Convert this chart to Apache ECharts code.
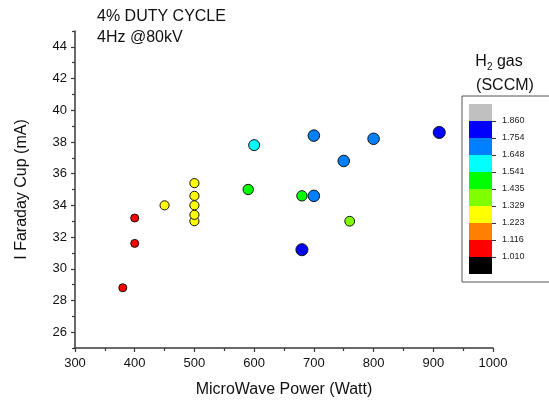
<!DOCTYPE html>
<html>
<head>
<meta charset="utf-8">
<script src="https://cdn.jsdelivr.net/npm/echarts@6/dist/echarts.min.js"></script>
<style>
  html, body { margin: 0; padding: 0; background: #fff; }
  #chart { width: 549px; height: 403px; }
</style>
</head>
<body>
<div id="chart"></div>
<script>
// 测量点：微波功率 / 法拉第杯电流 / H2 流量
const power   = [380, 400, 400, 450, 500, 500, 500, 500, 500, 590, 600, 680, 680, 700, 700, 750, 800, 910, 760]
const current = [28.8, 31.6, 33.2, 34.0, 33.0, 33.4, 34.0, 34.6, 35.4, 35.0, 37.8, 34.6, 31.2, 34.6, 38.4, 36.8, 38.2, 38.6, 33.0]
const gasFlow = [1.06, 1.06, 1.06, 1.27, 1.27, 1.27, 1.27, 1.27, 1.27, 1.49, 1.60, 1.49, 1.80, 1.70, 1.70, 1.70, 1.70, 1.80, 1.38]

// 色标：从下到上
const binColors = ['#000000', '#ff0000', '#ff8000', '#ffff00', '#80ff00', '#00ff00', '#00ffff', '#0080ff', '#0000ff', '#c0c0c0']
const binLabels = ['1.010', '1.116', '1.223', '1.329', '1.435', '1.541', '1.648', '1.754', '1.860']

const xTicks = [300, 400, 500, 600, 700, 800, 900, 1000]
const yMajor = [26, 28, 30, 32, 34, 36, 38, 40, 42, 44]
const yMinor = [25, 27, 29, 31, 33, 35, 37, 39, 41, 43, 45]

const FONT = 'Liberation Sans, Arial, sans-serif'
const AXIS_COLOR = '#3a3a3a'

// 分段边界
const edges = binLabels.map(Number)
const step = edges[1] - edges[0]
const bounds = [edges[0] - step, ...edges, edges[edges.length - 1] + step]
const pieces = binColors.map((c, i) => ({ gte: bounds[i], lt: bounds[i + 1], color: c }))

const points = power.map((p, i) => [p, current[i], gasFlow[i]])

const chart = echarts.init(document.getElementById('chart'))
chart.setOption({
  animation: false,
  textStyle: { fontFamily: FONT },
  title: {
    text: '4% DUTY CYCLE\n4Hz @80kV',
    left: 97,
    top: 6,
    padding: 0,
    textStyle: { fontSize: 16, fontWeight: 'normal', color: '#111', lineHeight: 21, fontFamily: FONT }
  },
  grid: [
    { left: 75, right: 56, top: 31, bottom: 53 },
    { left: 469, top: 104, width: 23, height: 170 }
  ],
  xAxis: [
    {
      type: 'value', gridIndex: 0, min: 300, max: 1000, interval: 100,
      name: 'MicroWave Power (Watt)', nameLocation: 'middle', nameGap: 34,
      nameTextStyle: { fontSize: 16, color: '#111', fontFamily: FONT },
      axisLine: { show: true, lineStyle: { color: AXIS_COLOR, width: 1.5 } },
      axisTick: { show: true, length: 4, customValues: xTicks, lineStyle: { color: AXIS_COLOR, width: 1.2 } },
      minorTick: { show: true, splitNumber: 2, length: 3, lineStyle: { color: AXIS_COLOR, width: 1.2 } },
      axisLabel: { fontSize: 13, color: '#111', margin: 9, customValues: xTicks, formatter: v => String(v) },
      splitLine: { show: false }
    },
    {
      type: 'category', gridIndex: 1, data: ['c'],
      show: false
    }
  ],
  yAxis: [
    {
      type: 'value', gridIndex: 0, min: 25, max: 45, interval: 1,
      name: 'I Faraday Cup (mA)', nameLocation: 'middle', nameGap: 45,
      nameTextStyle: { fontSize: 16, color: '#111', fontFamily: FONT },
      axisLine: { show: true, lineStyle: { color: AXIS_COLOR, width: 1.5 } },
      axisTick: { show: true, length: 4, customValues: yMajor, lineStyle: { color: AXIS_COLOR, width: 1.2 } },
      axisLabel: { fontSize: 13, color: '#111', margin: 8, customValues: yMajor },
      splitLine: { show: false }
    },
    {
      type: 'value', gridIndex: 0, min: 25, max: 45, interval: 1, position: 'left',
      axisLine: { show: false },
      axisTick: { show: true, length: 3, customValues: yMinor, lineStyle: { color: AXIS_COLOR, width: 1.2 } },
      axisLabel: { show: false },
      splitLine: { show: false }
    },
    {
      type: 'value', gridIndex: 1, min: 0, max: binColors.length, interval: 1, position: 'right',
      axisLine: { show: false },
      axisTick: { show: true, length: 4, customValues: binLabels.map((_, i) => i + 1), lineStyle: { color: '#333' } },
      axisLabel: {
        fontSize: 9, color: '#222', margin: 10,
        customValues: binLabels.map((_, i) => i + 1),
        formatter: v => binLabels[v - 1] || ''
      },
      splitLine: { show: false }
    }
  ],
  visualMap: {
    type: 'piecewise',
    show: false,
    dimension: 2,
    seriesIndex: 0,
    pieces
  },
  graphic: [
    {
      type: 'rect',
      shape: { x: 462, y: 96, width: 120, height: 186 },
      style: { fill: 'none', stroke: '#555', lineWidth: 1 },
      z: 10
    },
    {
      type: 'text', x: 499, y: 62,
      style: {
        text: '{h|H}{s|2}{h| gas}',
        textAlign: 'center', textVerticalAlign: 'middle',
        rich: {
          h: { fontSize: 16, lineHeight: 20, fontFamily: FONT, fill: '#111' },
          s: { fontSize: 10, lineHeight: 10, verticalAlign: 'bottom', fontFamily: FONT, fill: '#111' }
        }
      }
    },
    {
      type: 'text', x: 505, y: 86,
      style: {
        text: '(SCCM)', font: '16px ' + FONT, fill: '#111',
        textAlign: 'center', textVerticalAlign: 'middle'
      }
    }
  ],
  series: [
    {
      type: 'scatter',
      xAxisIndex: 0, yAxisIndex: 0,
      data: points,
      symbolSize: v => 8 + (v[2] - 1.06) * 5.5,
      itemStyle: { borderColor: '#111', borderWidth: 1, opacity: 1 }
    },
    ...binColors.map(c => ({
      type: 'bar',
      xAxisIndex: 1, yAxisIndex: 2,
      stack: 'colorbar',
      barWidth: '100%',
      data: [1],
      itemStyle: { color: c },
      silent: true
    }))
  ]
})
</script>
</body>
</html>
